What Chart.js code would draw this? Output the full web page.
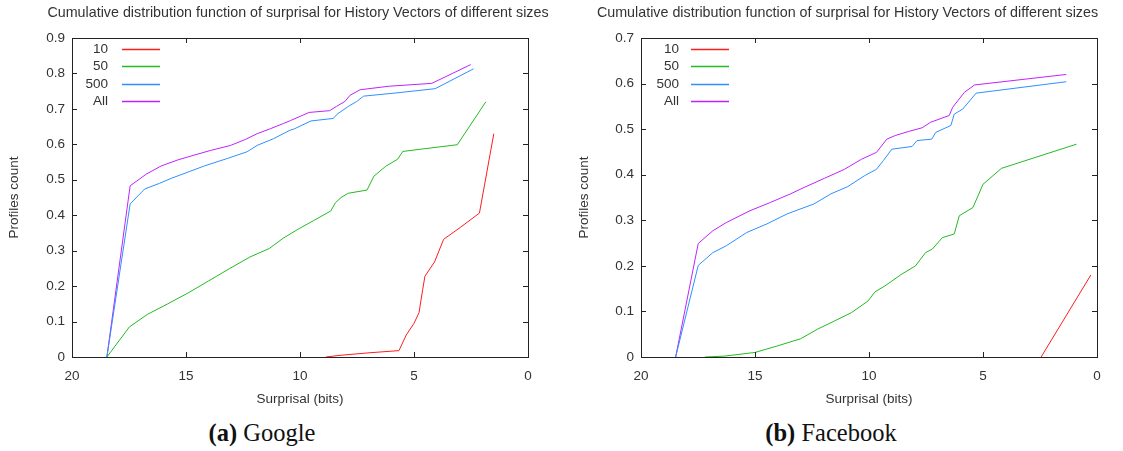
<!DOCTYPE html>
<html>
<head>
<meta charset="utf-8">
<script src="https://cdn.jsdelivr.net/npm/chart.js@4/dist/chart.umd.min.js"></script>
<style>
  html, body { margin: 0; padding: 0; background: #fff; }
  body { width: 1123px; height: 451px; position: relative; overflow: hidden; }
  .panel { position: absolute; top: 0; height: 415px; }
  .caption { position: absolute; top: 419px; font-family: "Liberation Serif", "Times New Roman", serif; font-size: 24.5px; color: #111; white-space: nowrap; transform: translateX(-50%); }
</style>
</head>
<body>
<div class="panel" style="left:0;width:560px"><canvas id="c1" width="560" height="415"></canvas></div>
<div class="panel" style="left:560px;width:563px"><canvas id="c2" width="563" height="415"></canvas></div>
<div class="caption" style="left:262px"><b>(a)</b> Google</div>
<div class="caption" style="left:831px"><b>(b)</b> Facebook</div>
<script>
// ---- data (surprisal in bits, cumulative fraction of profiles) ----
const chartTitle = "Cumulative distribution function of surprisal for History Vectors of different sizes";
const seriesLabels = ["10", "50", "500", "All"];
const xTicks = [20, 15, 10, 5, 0];
const googleYTicks = [0, 0.1, 0.2, 0.3, 0.4, 0.5, 0.6, 0.7, 0.8, 0.9];
const facebookYTicks = [0, 0.1, 0.2, 0.3, 0.4, 0.5, 0.6, 0.7];

const google10 = [[8.87,0],[8.2,0.005],[6.93,0.012],[5.66,0.018],[5.34,0.062],[5.0,0.095],[4.78,0.125],[4.62,0.19],[4.52,0.228],[4.1,0.268],[3.7,0.332],[2.96,0.366],[2.13,0.406],[1.5,0.63]];
const google50 = [[18.47,0],[17.48,0.085],[16.7,0.12],[15.8,0.15],[14.87,0.182],[14.0,0.215],[13.1,0.249],[12.2,0.282],[11.35,0.306],[10.74,0.335],[10.1,0.36],[9.4,0.385],[8.65,0.412],[8.45,0.435],[8.2,0.45],[7.88,0.462],[7.06,0.471],[6.76,0.51],[6.24,0.538],[5.72,0.558],[5.49,0.58],[3.1,0.599],[1.85,0.72]];
const google500 = [[18.47,0],[17.45,0.432],[16.81,0.474],[16.16,0.49],[15.65,0.504],[14.86,0.523],[14.2,0.539],[13.19,0.56],[12.32,0.579],[11.88,0.597],[11.16,0.616],[10.43,0.64],[10.27,0.643],[9.52,0.666],[8.55,0.673],[8.33,0.687],[7.88,0.707],[7.51,0.721],[7.21,0.736],[5.79,0.745],[4.07,0.757],[2.39,0.813]];
const googleAll = [[18.47,0],[17.45,0.483],[16.74,0.516],[16.09,0.539],[15.36,0.556],[14.78,0.567],[13.91,0.583],[13.04,0.597],[12.39,0.614],[11.88,0.63],[11.3,0.644],[10.72,0.659],[10.42,0.667],[9.6,0.69],[8.7,0.695],[8.4,0.707],[8.03,0.721],[7.81,0.738],[7.36,0.754],[6.09,0.764],[4.22,0.772],[2.51,0.825]];

const facebook10 = [[2.45,0],[0.27,0.18]];
const facebook50 = [[17.2,0],[16.33,0.002],[15.0,0.01],[14.04,0.024],[13.0,0.04],[12.26,0.061],[11.52,0.079],[10.78,0.097],[10.04,0.123],[9.74,0.143],[9.3,0.156],[8.56,0.182],[7.96,0.2],[7.52,0.229],[7.22,0.237],[6.78,0.262],[6.26,0.27],[6.04,0.31],[5.44,0.328],[5.0,0.379],[4.19,0.414],[0.9,0.467]];
const facebook500 = [[18.48,0],[17.49,0.201],[16.85,0.229],[16.26,0.244],[15.37,0.273],[14.48,0.292],[13.59,0.314],[12.41,0.336],[11.67,0.358],[10.93,0.374],[10.19,0.398],[9.67,0.412],[9.37,0.431],[9.0,0.456],[8.11,0.462],[7.89,0.475],[7.25,0.478],[7.07,0.493],[6.41,0.508],[6.26,0.533],[5.89,0.544],[5.3,0.579],[1.35,0.604]];
const facebookAll = [[18.48,0],[17.49,0.249],[16.85,0.277],[16.26,0.295],[15.22,0.321],[14.33,0.339],[13.44,0.358],[12.85,0.372],[11.96,0.392],[11.07,0.412],[10.33,0.434],[9.67,0.449],[9.22,0.478],[8.85,0.486],[8.26,0.495],[7.67,0.503],[7.3,0.515],[6.48,0.53],[6.33,0.548],[5.81,0.581],[5.37,0.597],[1.35,0.62]];

// ---- styling ----
const colors = ["#ff1c1c", "#22bb22", "#2f8fff", "#bf22ff"];
const FONT = "'Liberation Sans', Arial, sans-serif";
const TEXT = "#333";

const gnuFrame = {
  id: 'gnuFrame',
  afterDatasetsDraw(chart, args, o) {
    const {ctx, chartArea: a} = chart;
    const xs = chart.scales.x, ys = chart.scales.y;
    ctx.save();
    ctx.strokeStyle = "#222";
    ctx.lineWidth = 1;
    ctx.strokeRect(Math.round(a.left) + 0.5, Math.round(a.top) + 0.5, Math.round(a.right - a.left), Math.round(a.bottom - a.top));
    ctx.beginPath();
    xs.ticks.forEach(t => {
      const p = Math.round(xs.getPixelForValue(t.value)) + 0.5;
      ctx.moveTo(p, a.bottom); ctx.lineTo(p, a.bottom - 5);
      ctx.moveTo(p, a.top); ctx.lineTo(p, a.top + 5);
    });
    ys.ticks.forEach(t => {
      const p = Math.round(ys.getPixelForValue(t.value)) + 0.5;
      ctx.moveTo(a.left, p); ctx.lineTo(a.left + 5, p);
      ctx.moveTo(a.right, p); ctx.lineTo(a.right - 5, p);
    });
    ctx.stroke();
    // legend (gnuplot style: right-aligned label then line sample)
    ctx.font = "13.5px " + FONT;
    ctx.fillStyle = TEXT;
    ctx.textAlign = "right";
    ctx.textBaseline = "middle";
    chart.data.datasets.forEach((d, i) => {
      const yy = a.top + 11 + i * 17.4;
      ctx.fillText(d.label, a.left + o.legendTextEnd, yy);
      ctx.strokeStyle = d.borderColor;
      ctx.lineWidth = 1.5;
      ctx.beginPath();
      ctx.moveTo(a.left + 50, Math.round(yy) + 0.5);
      ctx.lineTo(a.left + 88, Math.round(yy) + 0.5);
      ctx.stroke();
    });
    // title
    ctx.textAlign = "center";
    ctx.fillStyle = TEXT;
    ctx.font = "14.3px " + FONT;
    ctx.fillText(o.title, o.titleX, 13);
    ctx.restore();
  }
};

function toPts(arr) { return arr.map(p => ({x: p[0], y: p[1]})); }

function makeChart(id, series, yTicks, cfg) {
  const datasets = series.map((s, i) => ({
    label: seriesLabels[i],
    data: toPts(s),
    borderColor: colors[i],
    backgroundColor: colors[i],
    borderWidth: 1,
    pointRadius: 0,
    tension: 0,
    fill: false
  }));
  return new Chart(document.getElementById(id), {
    type: 'line',
    data: { datasets },
    plugins: [gnuFrame],
    options: {
      responsive: false,
      animation: false,
      devicePixelRatio: 1,
      layout: { padding: { top: 38, right: cfg.padRight, left: 0, bottom: 0 } },
      plugins: {
        legend: { display: false },
        title: { display: false },
        tooltip: { enabled: false },
        gnuFrame: { title: chartTitle, titleX: cfg.titleX, legendTextEnd: cfg.legendTextEnd }
      },
      scales: {
        x: {
          type: 'linear', reverse: true, min: 0, max: 20,
          afterBuildTicks: s => { s.ticks = xTicks.map(v => ({value: v})); },
          afterFit: s => { s.height = 58; },
          grid: { display: false, drawTicks: false },
          border: { display: false },
          ticks: { color: TEXT, font: { family: FONT, size: 13.5 }, padding: 11, maxRotation: 0, callback: v => String(v) },
          title: { display: true, text: 'Surprisal (bits)', color: TEXT, font: { family: FONT, size: 13.5 }, padding: { top: 0, bottom: 8 } }
        },
        y: {
          type: 'linear', min: 0, max: yTicks[yTicks.length - 1],
          afterBuildTicks: s => { s.ticks = yTicks.map(v => ({value: v})); },
          afterFit: s => { s.width = cfg.yWidth; },
          grid: { display: false, drawTicks: false },
          border: { display: false },
          ticks: { color: TEXT, font: { family: FONT, size: 13.5 }, padding: 7, callback: v => String(+Number(v).toFixed(1)) },
          title: { display: true, text: 'Profiles count', color: TEXT, font: { family: FONT, size: 13.5 }, padding: { top: cfg.yTitlePad, bottom: 0 } }
        }
      }
    }
  });
}

makeChart('c1', [google10, google50, google500, googleAll], googleYTicks,
  { padRight: 32, yWidth: 72, yTitlePad: 6, titleX: 298, legendTextEnd: 36 });
makeChart('c2', [facebook10, facebook50, facebook500, facebookAll], facebookYTicks,
  { padRight: 26, yWidth: 81, yTitlePad: 16, titleX: 287.5, legendTextEnd: 38 });
</script>
</body>
</html>
